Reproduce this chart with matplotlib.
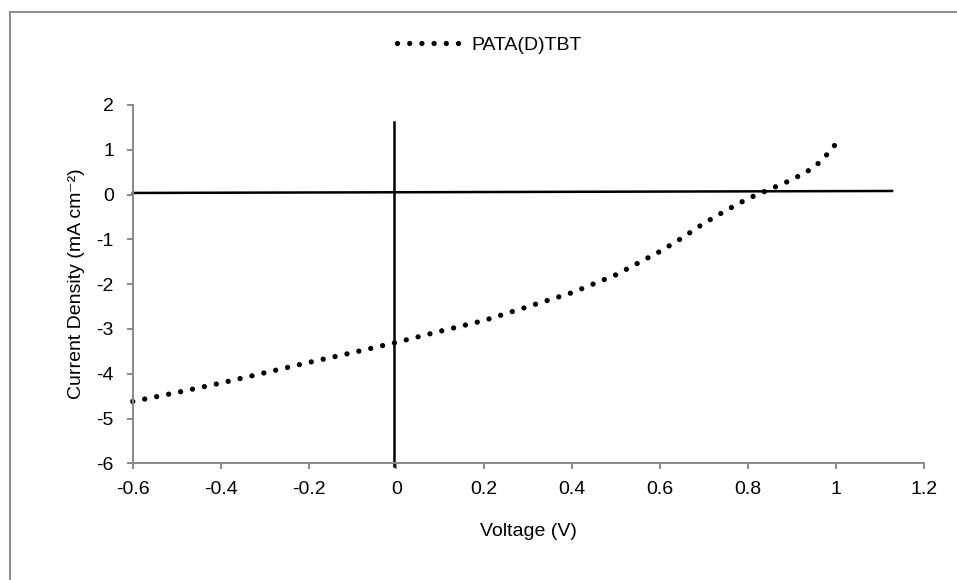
import numpy as np
from matplotlib import pyplot as plt
from matplotlib.lines import Line2D

plt.rcParams['font.family'] = ['Liberation Sans', 'DejaVu Sans']
plt.rcParams['axes.unicode_minus'] = False

# Data
voltage = np.array([-0.6, -0.5, -0.4, -0.3, -0.2, -0.1, 0.0, 0.1, 0.2, 0.3, 0.4,
                    0.5, 0.6, 0.65, 0.7, 0.75, 0.8, 0.85, 0.9, 0.95, 0.975, 1.0])
current = np.array([-4.62, -4.42, -4.21, -3.98, -3.75, -3.53, -3.30, -3.05, -2.81, -2.50, -2.19,
                    -1.79, -1.27, -0.97, -0.64, -0.355, -0.09, 0.12, 0.33, 0.60, 0.84, 1.13])

# the two hand-drawn axis lines in the original chart
hline_x = [-0.6, 1.128]
hline_y = [0.036, 0.08]
vline_x = [-0.005, -0.005]
vline_y = [1.615, -6.07]

xticks = [-0.6, -0.4, -0.2, 0, 0.2, 0.4, 0.6, 0.8, 1, 1.2]
xtick_labels = ['-0.6', '-0.4', '-0.2', '0', '0.2', '0.4', '0.6', '0.8', '1', '1.2']
yticks = [-6, -5, -4, -3, -2, -1, 0, 1, 2]

fs = 14

fig = plt.figure(figsize=(9.57, 5.8), dpi=100)
ax = fig.add_axes([0.1387, 0.2012, 0.8265, 0.6178])

ax.plot(hline_x, hline_y, color='black', lw=1.8, clip_on=False)
ax.plot(vline_x, vline_y, color='black', lw=1.8, clip_on=False)
ax.plot(voltage, current, color='black', lw=3.8, linestyle=(0, (0.01, 2.3)),
        dash_capstyle='round', solid_capstyle='round', clip_on=False, label='PATA(D)TBT')

ax.set_xlim(-0.6, 1.2)
ax.set_ylim(-6, 2)
ax.set_xticks(xticks)
ax.set_xticklabels(xtick_labels)
ax.set_yticks(yticks)

for side in ['top', 'right']:
    ax.spines[side].set_visible(False)
for side in ['left', 'bottom']:
    ax.spines[side].set_color('#898989')
    ax.spines[side].set_linewidth(1.4)
ax.tick_params(axis='both', direction='out', length=4.5, width=1.4, color='#898989',
               labelsize=fs, labelcolor='black')
ax.tick_params(axis='y', pad=9)
ax.tick_params(axis='x', pad=8)

ax.set_xlabel('Voltage (V)', fontsize=fs, labelpad=18)
ax.set_ylabel('Current Density (mA cm\u207b\u00b2)', fontsize=fs, labelpad=8)

ax.legend(loc='center', bbox_to_anchor=(0.5115, 0.922), bbox_transform=fig.transFigure,
          frameon=False, fontsize=fs, handlelength=3.4, handletextpad=0.4)

# outer chart border (cropped at right and bottom)
x0, y0 = 10 / 957, 1 - 11.7 / 580
fig.add_artist(Line2D([x0, 1.02], [y0, y0], color='#8c8c8c', lw=1.4, transform=fig.transFigure))
fig.add_artist(Line2D([x0, x0], [y0, -0.02], color='#8c8c8c', lw=1.4, transform=fig.transFigure))

fig.savefig('out.png', dpi=100)
